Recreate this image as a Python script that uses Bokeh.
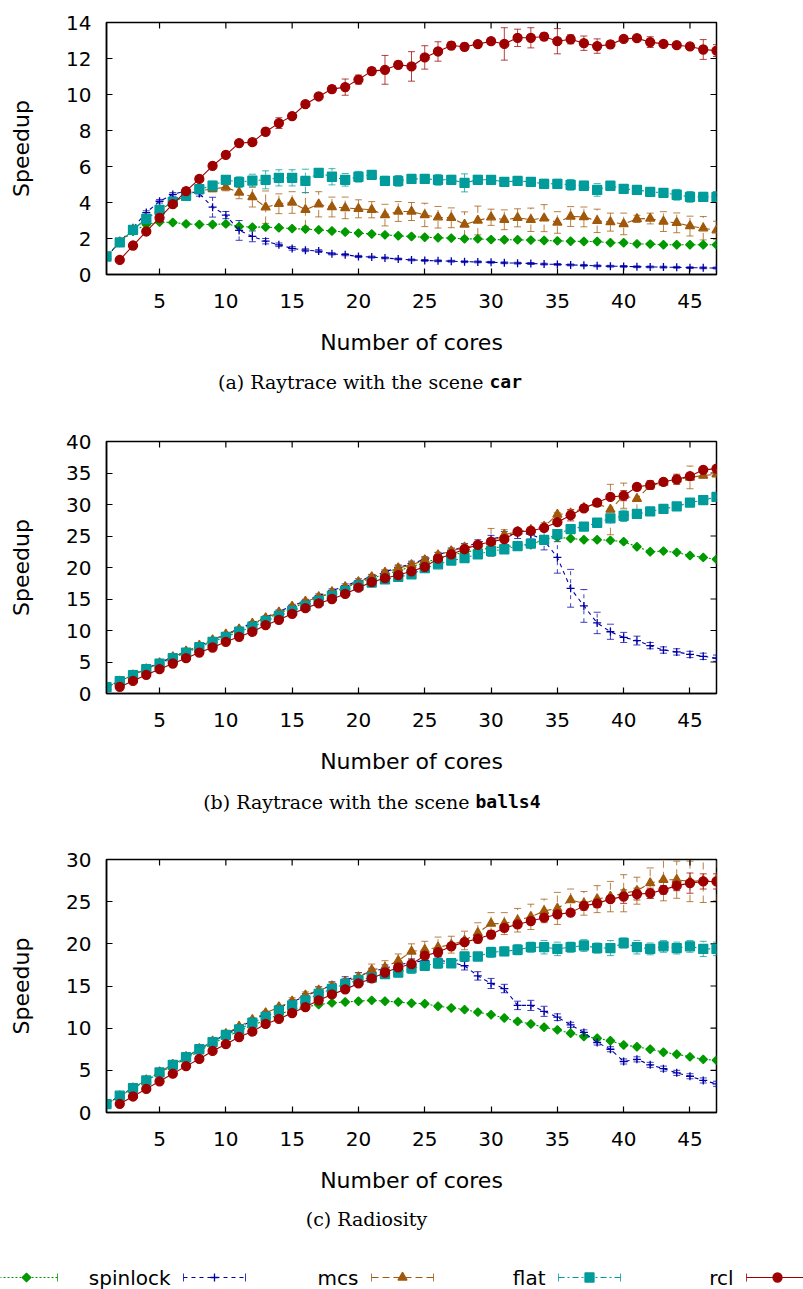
import math
from bokeh.plotting import figure
from bokeh.models import Range1d, FixedTicker, Label, Whisker, TeeHead, ColumnDataSource
from bokeh.layouts import column
from bokeh.embed import file_html
from bokeh.resources import INLINE

# ---------------- data ----------------
CORES = list(range(1, 48))
RCL_CORES = list(range(2, 48))
X_TICKS = [5, 10, 15, 20, 25, 30, 35, 40, 45]
Y_TICKS_CAR = [0, 2, 4, 6, 8, 10, 12, 14]
Y_TICKS_BALLS = [0, 5, 10, 15, 20, 25, 30, 35, 40]
Y_TICKS_RAD = [0, 5, 10, 15, 20, 25, 30]
LEGEND_LABELS = ["", "spinlock", "mcs", "flat", "rcl"]

# (a) Raytrace car
CAR_TICKET = [1.0, 1.78, 2.4, 2.78, 2.91, 2.89, 2.81, 2.78, 2.78, 2.81,
              2.67, 2.63, 2.63, 2.6, 2.55, 2.52, 2.48, 2.42, 2.36, 2.3,
              2.25, 2.2, 2.15, 2.11, 2.07, 2.04, 2.02, 1.98, 1.98, 1.94,
              1.93, 1.93, 1.91, 1.89, 1.87, 1.85, 1.83, 1.83, 1.76, 1.76,
              1.7, 1.69, 1.65, 1.65, 1.65, 1.65, 1.65]
CAR_TICKET_ERR = [0.05] * 47
CAR_SPIN = [1.0, 1.8, 2.6, 3.44, 4.07, 4.45, 4.65, 4.5, 3.74, 3.3,
            2.45, 2.12, 1.85, 1.65, 1.45, 1.35, 1.3, 1.15, 1.1, 1.0,
            0.97, 0.92, 0.86, 0.81, 0.78, 0.76, 0.74, 0.71, 0.7, 0.68,
            0.65, 0.63, 0.61, 0.58, 0.56, 0.53, 0.51, 0.48, 0.46, 0.45,
            0.43, 0.42, 0.41, 0.4, 0.38, 0.37, 0.36]
CAR_SPIN_ERR = [0.05, 0.05, 0.1, 0.1, 0.1, 0.1, 0.15, 0.15, 0.55, 0.2,
                0.55, 0.3, 0.15, 0.1, 0.1, 0.08, 0.08, 0.06, 0.06, 0.06,
                0.05, 0.05, 0.05, 0.05, 0.05, 0.05, 0.05, 0.05, 0.05, 0.05,
                0.05, 0.05, 0.05, 0.05, 0.05, 0.05, 0.05, 0.05, 0.05, 0.05,
                0.05, 0.05, 0.05, 0.05, 0.05, 0.05, 0.05]
CAR_MCS = [1.0, 1.8, 2.5, 3.1, 3.6, 4.0, 4.4, 4.65, 4.75, 4.85,
           4.56, 4.3, 3.74, 3.93, 4.0, 3.6, 3.9, 3.75, 3.7, 3.65,
           3.6, 3.3, 3.5, 3.5, 3.31, 3.18, 3.15, 2.78, 3.0, 3.18,
           3.04, 3.15, 3.04, 3.13, 2.89, 3.22, 3.2, 2.98, 2.91, 2.81,
           3.09, 3.11, 2.94, 2.87, 2.69, 2.57, 2.46]
CAR_MCS_ERR = [0.05, 0.05, 0.05, 0.05, 0.05, 0.05, 0.05, 0.1, 0.15, 0.2,
               0.35, 0.55, 0.9, 0.55, 0.6, 0.95, 0.7, 0.55, 0.6, 0.5,
               0.45, 0.6, 0.55, 0.5, 0.65, 0.6, 0.55, 0.7, 0.8, 0.45,
               0.55, 0.5, 0.65, 0.75, 0.6, 0.55, 0.55, 0.65, 0.5, 0.6,
               0.2, 0.3, 0.55, 0.55, 0.55, 0.65, 0.5]
CAR_FLAT = [1.0, 1.78, 2.48, 3.09, 3.59, 4.04, 4.37, 4.74, 4.93, 5.26,
            5.13, 5.22, 5.26, 5.37, 5.37, 5.2, 5.65, 5.43, 5.26, 5.43,
            5.54, 5.2, 5.2, 5.31, 5.31, 5.26, 5.26, 5.09, 5.26, 5.26,
            5.15, 5.2, 5.15, 5.04, 5.04, 4.98, 4.93, 4.7, 4.93, 4.76,
            4.7, 4.59, 4.54, 4.43, 4.31, 4.31, 4.31]
CAR_FLAT_ERR = [0.05, 0.05, 0.05, 0.05, 0.05, 0.05, 0.05, 0.1, 0.25, 0.2,
                0.3, 0.35, 0.5, 0.45, 0.45, 0.65, 0.15, 0.45, 0.35, 0.3,
                0.1, 0.25, 0.3, 0.1, 0.1, 0.3, 0.25, 0.5, 0.25, 0.15,
                0.2, 0.1, 0.15, 0.25, 0.25, 0.3, 0.25, 0.35, 0.15, 0.2,
                0.15, 0.15, 0.15, 0.3, 0.3, 0.25, 0.3]
CAR_RCL = [0.81, 1.61, 2.39, 3.15, 3.91, 4.63, 5.31, 6.04, 6.65, 7.3,
           7.35, 7.93, 8.41, 8.8, 9.46, 9.89, 10.3, 10.41, 10.83, 11.3,
           11.37, 11.65, 11.56, 12.06, 12.39, 12.72, 12.65, 12.8, 12.96, 12.81,
           13.15, 13.15, 13.22, 12.96, 13.07, 12.85, 12.69, 12.78, 13.09, 13.13,
           12.91, 12.81, 12.74, 12.67, 12.5, 12.44]
CAR_RCL_ERR = [0.05, 0.05, 0.05, 0.05, 0.05, 0.05, 0.05, 0.15, 0.1, 0.1,
               0.1, 0.2, 0.3, 0.15, 0.1, 0.1, 0.2, 0.45, 0.25, 0.2,
               0.8, 0.2, 0.82, 0.65, 0.54, 0.2, 0.2, 0.1, 0.15, 0.9,
               0.48, 0.56, 0.2, 0.7, 0.25, 0.4, 0.4, 0.2, 0.1, 0.1,
               0.3, 0.1, 0.1, 0.1, 0.55, 0.33]

# (b) Raytrace balls4
BALLS_TICKET = [1.0, 1.95, 2.95, 3.9, 4.8, 5.7, 6.6, 7.5, 8.4, 9.25,
                10.1, 11.0, 11.9, 12.7, 13.6, 14.4, 15.2, 16.0, 16.8, 17.6,
                18.3, 18.9, 19.5, 20.1, 20.8, 21.4, 22.0, 22.4, 22.8, 23.1,
                23.3, 23.5, 23.6, 24.5, 24.8, 24.6, 24.4, 24.4, 24.3, 24.1,
                23.3, 22.5, 22.6, 22.4, 21.9, 21.6, 21.3]
BALLS_TICKET_ERR = [0.15] * 47
BALLS_SPIN = [1.0, 2.0, 3.0, 3.95, 4.9, 5.8, 6.7, 7.6, 8.5, 9.4,
              10.3, 11.2, 12.1, 13.0, 13.9, 14.7, 15.5, 16.3, 17.1, 17.9,
              18.6, 19.3, 20.0, 20.6, 21.3, 22.0, 22.7, 23.3, 23.9, 24.5,
              25.0, 25.4, 25.3, 24.3, 21.6, 16.7, 13.9, 11.2, 9.8, 8.9,
              8.4, 7.6, 6.9, 6.6, 6.2, 5.9, 5.6]
BALLS_SPIN_ERR = [0.1, 0.1, 0.1, 0.1, 0.15, 0.15, 0.15, 0.2, 0.2, 0.2,
                  0.2, 0.2, 0.2, 0.25, 0.25, 0.25, 0.3, 0.3, 0.3, 0.3,
                  0.3, 0.3, 0.4, 0.4, 0.4, 0.4, 0.4, 0.5, 0.5, 0.6,
                  0.7, 0.8, 0.8, 1.5, 2.5, 3.0, 2.6, 1.7, 1.2, 0.8,
                  0.7, 0.5, 0.5, 0.5, 0.5, 0.5, 0.5]
BALLS_MCS = [1.0, 1.95, 2.95, 3.9, 4.85, 5.8, 6.7, 7.6, 8.5, 9.4,
             10.2, 11.1, 12.0, 12.9, 13.8, 14.6, 15.3, 16.1, 16.9, 17.7,
             18.5, 19.2, 19.9, 20.4, 21.2, 22.0, 22.6, 23.2, 23.6, 24.0,
             25.2, 25.7, 26.0, 26.5, 28.4, 28.6, 29.5, 30.2, 29.2, 31.4,
             30.9, 33.0, 33.5, 34.0, 34.3, 34.6, 34.8]
BALLS_MCS_ERR = [0.1, 0.1, 0.1, 0.15, 0.15, 0.15, 0.2, 0.2, 0.2, 0.2,
                 0.2, 0.2, 0.2, 0.2, 0.2, 0.2, 0.2, 0.2, 0.2, 0.2,
                 0.4, 0.4, 0.4, 0.4, 0.4, 0.4, 0.4, 0.4, 0.4, 2.2,
                 0.8, 0.5, 0.4, 0.6, 0.3, 0.5, 0.4, 0.5, 4.0, 2.0,
                 2.0, 0.6, 0.3, 0.6, 1.8, 0.4, 0.3]
BALLS_FLAT = [1.0, 1.95, 2.9, 3.85, 4.75, 5.6, 6.5, 7.35, 8.2, 9.0,
              9.8, 10.6, 11.5, 12.3, 13.1, 13.9, 14.7, 15.5, 16.3, 17.1,
              17.6, 18.1, 18.5, 18.9, 19.9, 20.5, 21.1, 21.5, 22.1, 22.6,
              22.9, 23.4, 23.8, 24.4, 25.3, 26.1, 26.5, 27.1, 27.8, 28.2,
              28.5, 28.9, 29.3, 29.7, 30.3, 30.7, 31.2]
BALLS_FLAT_ERR = [0.1, 0.1, 0.1, 0.1, 0.1, 0.15, 0.15, 0.15, 0.15, 0.2,
                  0.2, 0.2, 0.2, 0.2, 0.2, 0.2, 0.2, 0.2, 0.2, 0.2,
                  0.2, 0.2, 0.2, 0.2, 0.3, 0.3, 0.3, 0.3, 0.3, 0.8,
                  0.4, 0.3, 0.3, 0.3, 0.5, 0.3, 0.3, 0.6, 0.5, 0.9,
                  0.6, 0.3, 0.3, 0.3, 0.3, 0.3, 0.3]
BALLS_RCL = [1.06, 2.0, 2.96, 3.86, 4.76, 5.6, 6.5, 7.3, 8.2, 9.0,
             9.8, 10.85, 11.7, 12.65, 13.55, 14.3, 15.0, 15.8, 16.8, 17.7,
             18.3, 18.8, 19.4, 20.1, 21.4, 22.1, 22.9, 23.6, 24.1, 24.5,
             25.7, 25.8, 26.3, 27.2, 28.3, 29.4, 30.3, 31.2, 31.4, 32.8,
             33.1, 33.6, 34.0, 34.5, 35.5, 35.7]
BALLS_RCL_ERR = [0.1, 0.1, 0.1, 0.1, 0.15, 0.15, 0.15, 0.2, 0.2, 0.2,
                 0.2, 0.2, 0.2, 0.2, 0.2, 0.2, 0.2, 0.2, 0.2, 0.3,
                 0.3, 0.3, 0.3, 0.3, 0.3, 0.3, 0.3, 0.3, 0.3, 0.6,
                 0.3, 0.3, 0.3, 0.4, 0.9, 0.3, 0.3, 0.3, 0.8, 0.5,
                 0.7, 0.3, 0.8, 0.3, 0.3, 0.3]

# (c) Radiosity
RAD_TICKET = [1.0, 1.95, 2.9, 3.75, 4.7, 5.55, 6.4, 7.3, 8.2, 8.9,
              9.7, 10.3, 11.0, 11.6, 12.2, 12.5, 12.8, 13.0, 13.1, 13.2,
              13.3, 13.2, 13.1, 12.96, 12.9, 12.6, 12.4, 12.2, 11.9, 11.6,
              11.2, 10.8, 10.5, 10.1, 9.8, 9.4, 9.0, 8.8, 8.5, 8.0,
              7.8, 7.5, 7.15, 6.9, 6.6, 6.3, 6.2]
RAD_TICKET_ERR = [0.1] * 47
RAD_SPIN = [1.0, 1.95, 2.9, 3.8, 4.75, 5.65, 6.55, 7.5, 8.4, 9.3,
            10.1, 10.9, 11.7, 12.4, 13.1, 13.8, 14.5, 15.1, 15.7, 16.2,
            16.7, 17.1, 17.5, 17.8, 18.0, 18.1, 17.8, 17.4, 16.2, 15.3,
            14.7, 12.7, 12.7, 12.0, 11.3, 10.4, 9.5, 8.3, 7.5, 6.05,
            6.3, 5.65, 5.2, 4.7, 4.3, 3.8, 3.4]
RAD_SPIN_ERR = [0.1, 0.1, 0.1, 0.1, 0.1, 0.1, 0.15, 0.15, 0.15, 0.2,
                0.2, 0.2, 0.3, 0.3, 0.3, 0.3, 0.4, 0.4, 0.4, 0.4,
                0.4, 0.4, 0.4, 0.4, 0.4, 0.4, 0.4, 0.5, 0.5, 0.6,
                0.5, 0.5, 0.6, 0.6, 0.4, 0.3, 0.3, 0.3, 0.3, 0.3,
                0.3, 0.3, 0.3, 0.3, 0.3, 0.3, 0.3]
RAD_MCS = [1.0, 1.95, 2.9, 3.85, 4.8, 5.7, 6.6, 7.55, 8.45, 9.35,
           10.2, 11.0, 11.8, 12.5, 13.2, 13.9, 14.5, 15.0, 15.5, 16.05,
           16.9, 17.2, 18.0, 19.1, 19.3, 19.6, 19.9, 20.4, 21.3, 22.4,
           22.4, 22.8, 23.2, 23.9, 24.2, 25.2, 24.8, 25.3, 25.6, 26.0,
           26.3, 27.2, 27.6, 27.6, 27.4, 27.5, 27.6]
RAD_MCS_ERR = [0.1, 0.1, 0.1, 0.1, 0.15, 0.15, 0.2, 0.2, 0.2, 0.2,
               0.2, 0.2, 0.2, 0.2, 0.4, 0.4, 0.4, 0.4, 0.4, 0.5,
               0.7, 0.8, 0.8, 0.9, 1.0, 1.2, 1.0, 1.1, 1.2, 1.3,
               1.3, 1.4, 1.5, 1.4, 1.9, 1.3, 1.4, 1.6, 1.8, 2.2,
               1.6, 1.8, 2.5, 2.2, 2.4, 2.6, 2.5]
RAD_FLAT = [1.0, 2.0, 2.9, 3.8, 4.75, 5.65, 6.55, 7.5, 8.35, 9.2,
            9.85, 10.65, 11.35, 12.1, 12.7, 13.3, 14.05, 14.65, 15.25, 15.7,
            16.0, 16.4, 16.6, 17.1, 17.4, 17.7, 17.7, 18.5, 18.5, 19.0,
            19.1, 19.3, 19.6, 19.6, 19.4, 19.6, 19.8, 19.5, 19.5, 20.1,
            19.6, 19.4, 19.7, 19.5, 19.7, 19.4, 19.4]
RAD_FLAT_ERR = [0.1, 0.1, 0.1, 0.1, 0.1, 0.1, 0.15, 0.15, 0.15, 0.2,
                0.2, 0.2, 0.2, 0.2, 0.2, 0.2, 0.3, 0.3, 0.3, 0.3,
                0.4, 0.4, 0.5, 0.6, 0.5, 0.6, 0.5, 0.5, 0.4, 0.6,
                0.5, 0.6, 0.6, 0.8, 0.8, 0.6, 0.7, 0.6, 0.9, 0.6,
                0.8, 0.7, 0.7, 0.7, 0.7, 0.9, 0.8]
RAD_RCL = [1.03, 1.9, 2.8, 3.7, 4.6, 5.5, 6.35, 7.3, 8.1, 8.95,
           9.6, 10.5, 11.1, 11.8, 12.5, 13.3, 14.0, 14.6, 15.3, 15.9,
           16.6, 17.2, 17.6, 18.6, 19.0, 19.7, 20.2, 20.6, 21.1, 21.9,
           22.3, 22.7, 23.1, 23.5, 23.7, 24.5, 24.8, 25.3, 25.6, 25.9,
           26.0, 26.4, 26.9, 27.2, 27.4, 27.4]
RAD_RCL_ERR = [0.1, 0.1, 0.1, 0.1, 0.1, 0.1, 0.15, 0.15, 0.15, 0.2,
               0.2, 0.2, 0.2, 0.2, 0.2, 0.2, 0.2, 0.2, 0.2, 0.2,
               0.2, 0.2, 0.3, 0.3, 0.4, 0.4, 0.4, 0.4, 0.5, 0.4,
               0.4, 0.4, 0.4, 0.4, 0.4, 0.5, 0.5, 0.4, 0.8, 0.7,
               0.6, 0.5, 0.6, 1.2, 0.9, 0.9]

# ---------------- styles ----------------
STYLE = {
    "ticket":   dict(color="#009a00", dash="2 2", marker="square", size=6, angle=0.785398),
    "spinlock": dict(color="#0000a8", dash="4 4", marker="cross", size=8, angle=0.0),
    "mcs":      dict(color="#a0580a", dash="7 4", marker="triangle", size=9, angle=0.0),
    "flat":     dict(color="#009b9b", dash="6 3 2 3", marker="square", size=9, angle=0.0),
    "rcl":      dict(color="#9e0000", dash="solid", marker="circle", size=9, angle=0.0),
}
ORDER = ["ticket", "spinlock", "mcs", "flat", "rcl"]

FONT = "DejaVu Sans"
PAGE_W = 803
FRAME_L, FRAME_W = 106, 610
FRAME_R = PAGE_W - FRAME_L - FRAME_W
XMIN, XMAX = 1, 47


def panel(series, ymax, yticks, top, frame_h, bottom):
    p = figure(width=PAGE_W, height=top + frame_h + bottom,
               x_range=Range1d(XMIN, XMAX), y_range=Range1d(0, ymax),
               output_backend="svg", toolbar_location=None,
               min_border_left=FRAME_L, min_border_right=FRAME_R,
               min_border_top=top, min_border_bottom=bottom)
    p.xgrid.visible = False
    p.ygrid.visible = False
    p.outline_line_color = "black"
    p.outline_line_width = 1.5
    p.background_fill_color = "white"
    p.border_fill_color = "white"

    for ax, ticks in ((p.xaxis[0], X_TICKS), (p.yaxis[0], yticks)):
        ax.ticker = FixedTicker(ticks=ticks)
        ax.major_tick_in = 6
        ax.major_tick_out = 0
        ax.minor_tick_line_color = None
        ax.axis_line_width = 1.5
        ax.axis_line_color = "black"
        ax.major_tick_line_color = "black"
        ax.major_tick_line_width = 1.2
        ax.major_label_text_font = FONT
        ax.major_label_text_font_size = "20px"
        ax.major_label_text_color = "black"
        ax.axis_label_text_font = FONT
        ax.axis_label_text_font_size = "22px"
        ax.axis_label_text_font_style = "normal"
        ax.axis_label_text_color = "black"
    p.xaxis.axis_label = "Number of cores"
    p.xaxis.major_label_standoff = 19
    p.xaxis.axis_label_standoff = 19
    p.yaxis.axis_label = "Speedup"
    p.yaxis.major_label_standoff = 15
    p.yaxis.axis_label_standoff = 29

    # mirrored inward ticks on the top and right edges of the frame
    p.ray(x=X_TICKS, y=[ymax] * len(X_TICKS), length=6, length_units="screen",
          angle=-math.pi / 2, line_color="black", line_width=1.2)
    p.ray(x=[XMAX] * len(yticks), y=yticks, length=6, length_units="screen",
          angle=math.pi, line_color="black", line_width=1.2)

    for key in ORDER:
        xs, ys, es = series[key]
        st = STYLE[key]
        src = ColumnDataSource(dict(x=xs, y=ys,
                                    upper=[y + e for y, e in zip(ys, es)],
                                    lower=[y - e for y, e in zip(ys, es)]))
        p.add_layout(Whisker(source=src, base="x", upper="upper", lower="lower",
                             line_color=st["color"], line_alpha=0.75, line_width=1,
                             line_dash=st["dash"],
                             upper_head=TeeHead(size=7, line_color=st["color"], line_alpha=0.75),
                             lower_head=TeeHead(size=7, line_color=st["color"], line_alpha=0.75)))
        p.line("x", "y", source=src, line_color=st["color"], line_width=1.1,
               line_dash=st["dash"])
        p.scatter("x", "y", source=src, marker=st["marker"], size=st["size"],
                  angle=st["angle"], fill_color=st["color"], line_color=st["color"],
                  line_width=1.3)
    return p


def strip(page_top, page_bottom):
    s = figure(width=PAGE_W, height=page_bottom - page_top,
               x_range=Range1d(0, PAGE_W), y_range=Range1d(page_bottom, page_top),
               output_backend="svg", toolbar_location=None,
               x_axis_location=None, y_axis_location=None,
               min_border_left=0, min_border_right=0, min_border_top=0, min_border_bottom=0)
    s.frame_align = False
    s.grid.visible = False
    s.outline_line_color = None
    s.background_fill_color = "white"
    s.border_fill_color = "white"
    return s


def caption(page_top, page_bottom, cy, split_x, main, mono):
    s = strip(page_top, page_bottom)
    if mono:
        s.add_layout(Label(x=split_x, y=cy, x_offset=-6, text=main, text_align="right",
                           text_baseline="middle", text_font="DejaVu Serif",
                           text_font_size="19px", text_color="black"))
        s.add_layout(Label(x=split_x, y=cy, text=mono, text_align="left",
                           text_baseline="middle", text_font="DejaVu Sans Mono",
                           text_font_style="bold", text_font_size="18px", text_color="black"))
    else:
        s.add_layout(Label(x=split_x, y=cy, text=main, text_align="center",
                           text_baseline="middle", text_font="DejaVu Serif",
                           text_font_size="19px", text_color="black"))
    return s


def pack(t, s, m, f, r, te, se, me, fe, re):
    return {"ticket": (CORES, t, te), "spinlock": (CORES, s, se), "mcs": (CORES, m, me),
            "flat": (CORES, f, fe), "rcl": (RCL_CORES, r, re)}


p1 = panel(pack(CAR_TICKET, CAR_SPIN, CAR_MCS, CAR_FLAT, CAR_RCL,
                CAR_TICKET_ERR, CAR_SPIN_ERR, CAR_MCS_ERR, CAR_FLAT_ERR, CAR_RCL_ERR),
           14, Y_TICKS_CAR, 22, 252, 86)                      # page 0..360
c1 = caption(360, 405, 381, 489, "(a) Raytrace with the scene", "car")
p2 = panel(pack(BALLS_TICKET, BALLS_SPIN, BALLS_MCS, BALLS_FLAT, BALLS_RCL,
                BALLS_TICKET_ERR, BALLS_SPIN_ERR, BALLS_MCS_ERR, BALLS_FLAT_ERR, BALLS_RCL_ERR),
           40, Y_TICKS_BALLS, 36, 252, 87)                    # page 405..780
c2 = caption(780, 822, 801, 475, "(b) Raytrace with the scene", "balls4")
p3 = panel(pack(RAD_TICKET, RAD_SPIN, RAD_MCS, RAD_FLAT, RAD_RCL,
                RAD_TICKET_ERR, RAD_SPIN_ERR, RAD_MCS_ERR, RAD_FLAT_ERR, RAD_RCL_ERR),
           30, Y_TICKS_RAD, 37, 253, 87)                      # page 822..1199
c3 = caption(1199, 1240, 1218, 366, "(c) Radiosity", None)

# ---------------- legend strip (page coordinates) ----------------
leg = strip(1240, 1289)
LEG_Y = 1277
LEG_LABEL_RIGHT = [-18, 170, 358, 545, 733]
for key, lab, lr in zip(ORDER, LEGEND_LABELS, LEG_LABEL_RIGHT):
    st = STYLE[key]
    x0, x1 = lr + 13, lr + 75
    xm = (x0 + x1) / 2
    if lab:
        leg.add_layout(Label(x=lr, y=LEG_Y, text=lab, text_align="right",
                             text_baseline="middle", text_font=FONT,
                             text_font_size="20px", text_color="black"))
    leg.line([x0, x1], [LEG_Y, LEG_Y], line_color=st["color"], line_width=1.1,
             line_dash=st["dash"])
    leg.segment([x0, x1], [LEG_Y - 4, LEG_Y - 4], [x0, x1], [LEG_Y + 4, LEG_Y + 4],
                line_color=st["color"], line_width=1, line_alpha=0.8)
    leg.scatter([xm], [LEG_Y], marker=st["marker"], size=st["size"], angle=st["angle"],
                fill_color=st["color"], line_color=st["color"], line_width=1.3)

layout = column(p1, c1, p2, c2, p3, c3, leg, spacing=0)
open("out.html", "w").write(file_html(layout, INLINE))
